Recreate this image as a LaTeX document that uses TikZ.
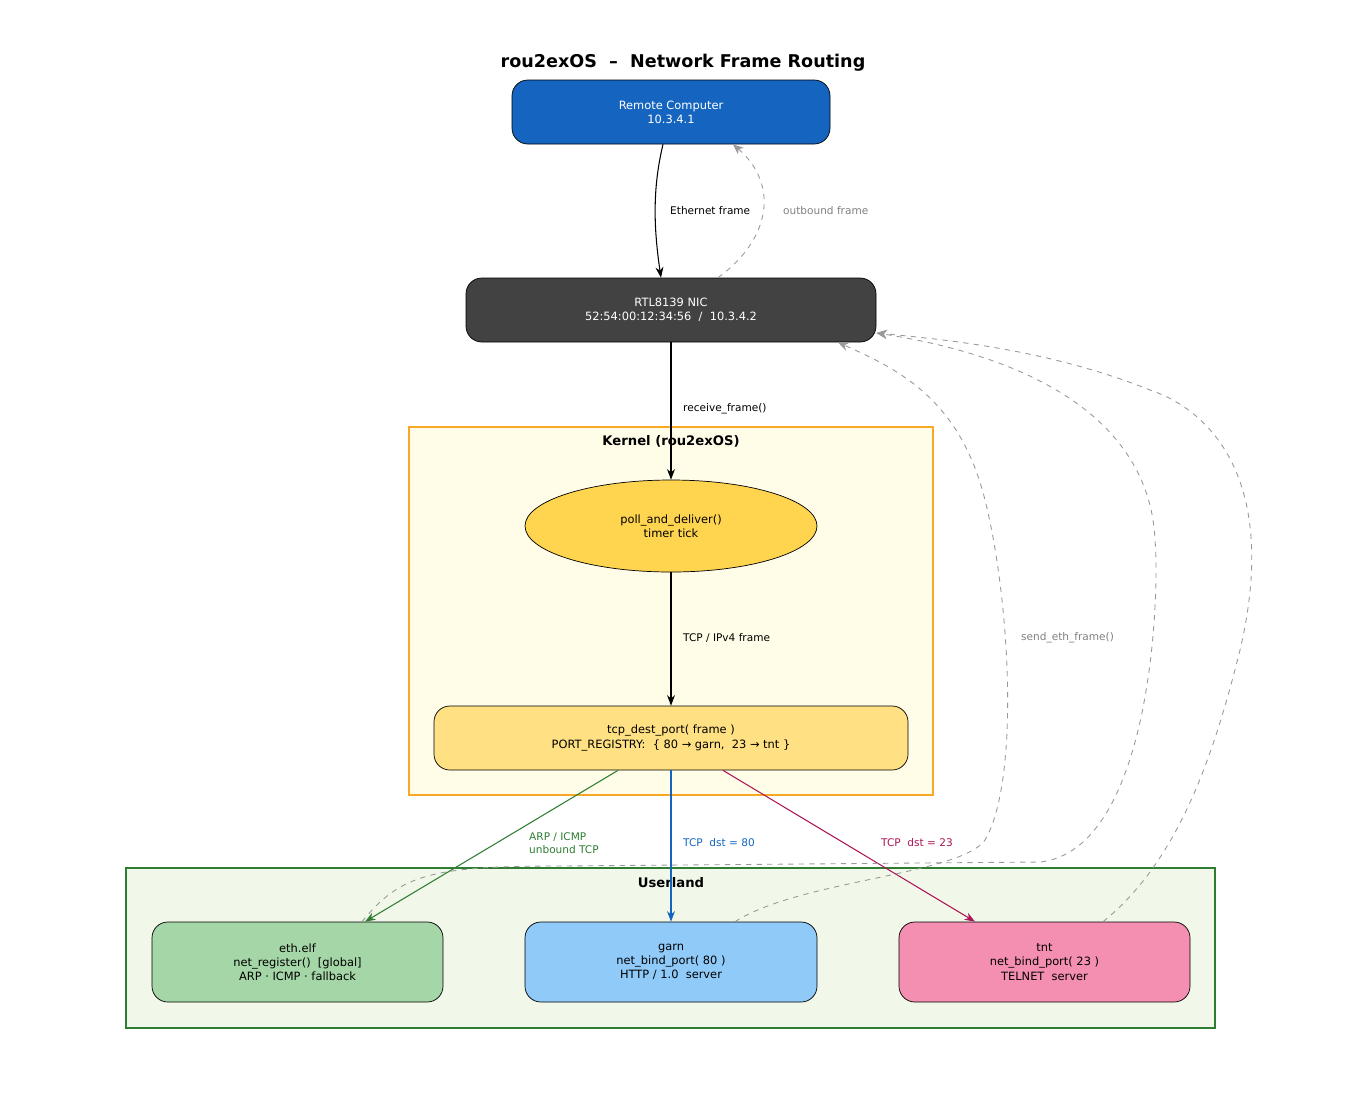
\documentclass[tikz,border=0pt]{standalone}
\usepackage{fontspec}
\setmainfont{DejaVu Sans}
\usetikzlibrary{shapes.geometric,arrows.meta}
\definecolor{rblue}{HTML}{1565C0}
\definecolor{rgray}{HTML}{424242}
\definecolor{korange}{HTML}{F9A825}
\definecolor{kfill}{HTML}{FFFDE7}
\definecolor{ufill}{HTML}{F1F8E9}
\definecolor{ugreen}{HTML}{2E7D32}
\definecolor{pink}{HTML}{AD1457}
\begin{document}
\begin{tikzpicture}[x=0.02cm,y=-0.02cm,
 box/.style={draw=black,rounded corners=9pt,minimum height=64*0.02cm,align=center,font=\fontsize{6.5}{8}\selectfont,inner sep=0},
 lbl/.style={font=\fontsize{6}{7.5}\selectfont,align=left,anchor=west},
 arr/.style={-{Stealth[length=6pt,width=4.5pt]},line width=0.6pt},
 ret/.style={arr,draw=gray!80,dashed,line width=0.5pt,-{Stealth[length=6pt,width=5pt]}},
 clus/.style={line width=1.1pt}]
\useasboundingbox (0,0) rectangle (1365,1103);
\node[font=\bfseries\fontsize{10}{12}\selectfont] (title) at (683,63) {rou2exOS \ – \ Network Frame Routing};
\node[box,fill=rblue,text=white,minimum width=318*0.02cm] (rc) at (671,112) {Remote Computer\\10.3.4.1};
\node[box,fill=rgray,text=white,minimum width=410*0.02cm] (nic) at (671,310) {RTL8139 NIC\\52:54:00:12:34:56 \ / \ 10.3.4.2};
\node[draw=korange,fill=kfill,clus,minimum width=524*0.02cm,minimum height=368*0.02cm,inner sep=0] (kern) at (671,611) {};
\node[font=\bfseries\fontsize{7.5}{9}\selectfont] (kl) at (671,441) {Kernel (rou2exOS)};
\node[draw=black,fill=yellow!60!orange!60!white,fill={rgb,255:red,255;green,213;blue,79},ellipse,minimum width=292*0.02cm,minimum height=92*0.02cm,inner sep=0,align=center,font=\fontsize{6.5}{8}\selectfont] (poll) at (671,526) {poll\_and\_deliver()\\timer tick};
\node[box,fill={rgb,255:red,255;green,224;blue,130},minimum width=474*0.02cm] (tcp) at (671,738) {tcp\_dest\_port( frame )\\PORT\_REGISTRY: \ \{ 80 → garn, \ 23 → tnt \}};
\node[draw=ugreen,fill=ufill,clus,minimum width=1089*0.02cm,minimum height=160*0.02cm,inner sep=0] (user) at (670.5,948) {};
\node[font=\bfseries\fontsize{7.5}{9}\selectfont] (ul) at (671,883) {Userland};
\node[box,fill={rgb,255:red,165;green,214;blue,167},minimum width=291*0.02cm,minimum height=80*0.02cm] (eth) at (297.5,962) {eth.elf\\net\_register() \ [global]\\ARP · ICMP · fallback};
\node[box,fill={rgb,255:red,144;green,202;blue,249},minimum width=292*0.02cm,minimum height=80*0.02cm] (garn) at (671,962) {garn\\net\_bind\_port( 80 )\\HTTP / 1.0 \ server};
\node[box,fill={rgb,255:red,244;green,143;blue,177},minimum width=291*0.02cm,minimum height=80*0.02cm] (tnt) at (1044.5,962) {tnt\\net\_bind\_port( 23 )\\TELNET \ server};
% edges
\draw[arr] (rc.south -| 663,0) .. controls (652,190) and (654,230) .. (nic.north -| 661,0);
\node[lbl] (l1) at (664,211) {Ethernet frame};
\draw[ret] (nic.north -| 718,0) .. controls (770,240) and (780,185) .. (rc.south -| 733,0);
\node[lbl,text=gray] (l2) at (777,211) {outbound frame};
\draw[arr] (nic) -- (poll);
\node[lbl] (l3) at (677,409) {receive\_frame()};
\draw[arr] (poll) -- (tcp);
\node[lbl] (l4) at (677,638) {TCP / IPv4 frame};
\draw[arr,draw=ugreen,-{Stealth[length=6pt,width=4.5pt]}] (tcp.south -| 618,0) -- (eth.north -| 365,0);
\node[lbl,text=ugreen] (l5) at (523,843) {ARP / ICMP\\unbound TCP};
\draw[arr,draw=rblue] (tcp) -- (garn);
\node[lbl,text=rblue] (l6) at (677,843) {TCP \ dst = 80};
\draw[arr,draw=pink] (tcp.south -| 723,0) -- (tnt.north -| 975,0);
\node[lbl,text=pink] (l7) at (875,843) {TCP \ dst = 23};
% returns
\draw[ret] (eth.north -| 362,0) .. controls (400,875) and (430,866) .. (560,866) -- (1040,862) .. controls (1150,850) and (1160,600) .. (1155,540) .. controls (1150,430) and (1050,360) .. (nic.east |- 0,333);
\draw[ret] (garn.north -| 735,0) .. controls (800,880) and (960,875) .. (985,840) .. controls (1020,780) and (1010,600) .. (985,500) .. controls (960,400) and (900,370) .. (nic.south -| 838,0);
\draw[ret] (tnt.north -| 1103,0) .. controls (1180,860) and (1215,750) .. (1240,650) .. controls (1280,480) and (1210,410) .. (1150,390) .. controls (1050,350) and (950,340) .. (nic.east |- 0,333);
\node[lbl,text=gray] (l8) at (1015,638) {send\_eth\_frame()};
\end{tikzpicture}
\end{document}
